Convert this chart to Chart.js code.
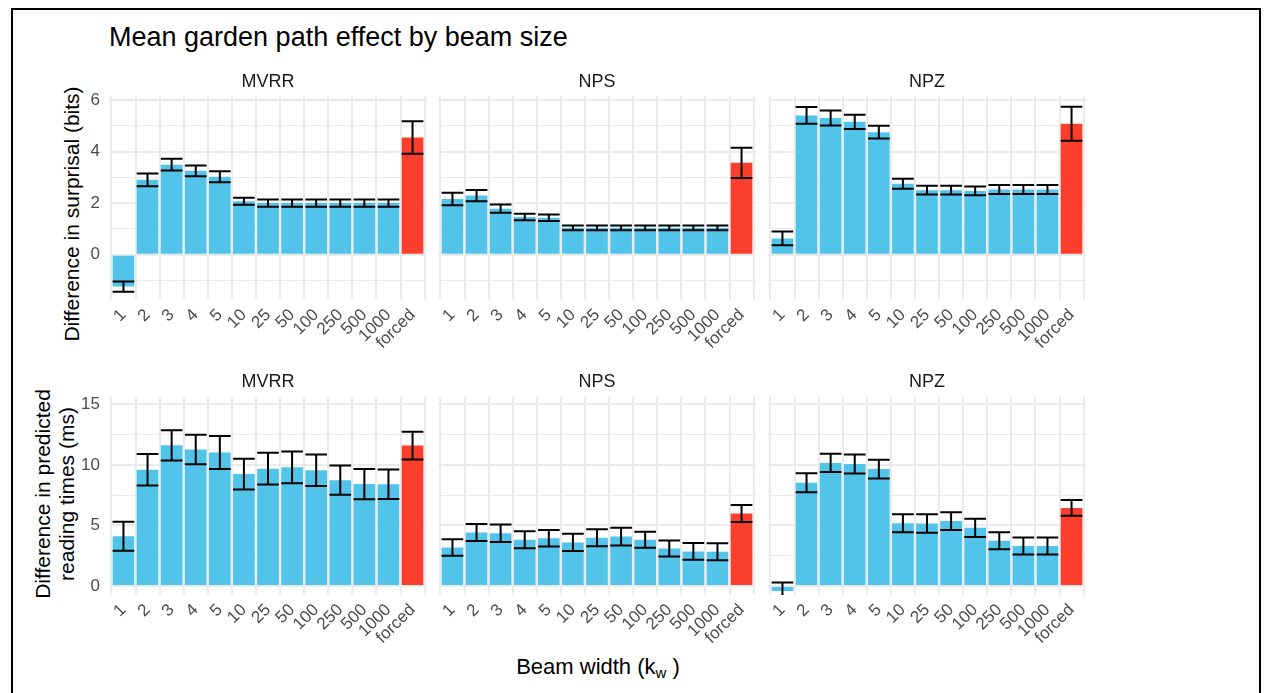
<!DOCTYPE html>
<html><head><meta charset="utf-8">
<script src="https://cdn.jsdelivr.net/npm/chart.js@4.4.1/dist/chart.umd.min.js"></script>
<style>
html,body{margin:0;padding:0;background:#fff;}
body{width:1270px;height:693px;position:relative;overflow:hidden;font-family:"Liberation Sans",Arial,sans-serif;}
#frame{position:absolute;left:11px;top:8px;width:1246px;height:720px;border:2px solid #000;border-bottom:none;}
canvas.p{position:absolute;}
.t{position:absolute;white-space:nowrap;color:#000;line-height:1;}
.rot{transform:translate(-50%,-50%) rotate(-90deg);text-align:center;}
</style></head><body>
<div id="frame"></div>
<div class="t" style="left:109px;top:24px;font-size:27px;">Mean garden path effect by beam size</div>
<div class="t rot" style="left:71px;top:214px;font-size:21px;">Difference in surprisal (bits)</div>
<div class="t rot" style="left:55px;top:494px;font-size:21px;line-height:24px;">Difference in predicted<br>reading times (ms)</div>
<div class="t" style="left:598px;top:668px;font-size:22px;transform:translate(-50%,-50%);">Beam width (k<sub style="font-size:15px;vertical-align:-4px;">w</sub> )</div>

<canvas class="p" id="c11"></canvas><canvas class="p" id="c12"></canvas><canvas class="p" id="c13"></canvas>
<canvas class="p" id="c21"></canvas><canvas class="p" id="c22"></canvas><canvas class="p" id="c23"></canvas>
<script>
// ---- data ----
const categories = ['1','2','3','4','5','10','25','50','100','250','500','1000','forced'];
const panelNames = ['MVRR','NPS','NPZ'];

// Difference in surprisal (bits)
const surpMVRR    = [-1.24, 2.90, 3.49, 3.25, 3.02, 2.07, 2.00, 2.00, 2.00, 2.00, 2.00, 2.00, 4.54];
const surpMVRRErr = [0.20, 0.25, 0.23, 0.21, 0.21, 0.14, 0.14, 0.14, 0.14, 0.14, 0.14, 0.14, 0.63];
const surpNPS     = [2.16, 2.29, 1.78, 1.46, 1.43, 1.04, 1.04, 1.04, 1.04, 1.04, 1.04, 1.04, 3.56];
const surpNPSErr  = [0.24, 0.22, 0.16, 0.125, 0.125, 0.09, 0.09, 0.09, 0.09, 0.09, 0.09, 0.09, 0.585];
const surpNPZ     = [0.63, 5.40, 5.30, 5.15, 4.75, 2.75, 2.50, 2.50, 2.47, 2.53, 2.53, 2.53, 5.08];
const surpNPZErr  = [0.27, 0.325, 0.29, 0.275, 0.245, 0.195, 0.17, 0.17, 0.17, 0.175, 0.175, 0.175, 0.66];

// Difference in predicted reading times (ms)
const rtMVRR    = [4.11, 9.60, 11.62, 11.28, 11.03, 9.25, 9.69, 9.80, 9.56, 8.74, 8.42, 8.40, 11.60];
const rtMVRRErr = [1.20, 1.30, 1.25, 1.22, 1.37, 1.27, 1.31, 1.31, 1.31, 1.21, 1.25, 1.22, 1.14];
const rtNPS     = [3.17, 4.41, 4.35, 3.82, 3.94, 3.60, 3.98, 4.08, 3.82, 3.10, 2.85, 2.83, 5.98];
const rtNPSErr  = [0.68, 0.70, 0.72, 0.70, 0.68, 0.72, 0.70, 0.73, 0.66, 0.66, 0.69, 0.70, 0.70];
const rtNPZ     = [-0.42, 8.53, 10.17, 10.08, 9.66, 5.18, 5.16, 5.36, 4.80, 3.74, 3.30, 3.30, 6.45];
const rtNPZErr  = [0.70, 0.78, 0.76, 0.78, 0.78, 0.75, 0.76, 0.73, 0.76, 0.70, 0.70, 0.70, 0.65];

const surpTicks = [-1, 0, 1, 2, 3, 4, 5, 6];
const surpMajor = [0, 2, 4, 6];
const rtTicks = [0, 2.5, 5, 7.5, 10, 12.5, 15];
const rtMajor = [0, 5, 10, 15];

// ---- style / layout ----
const BLUE = '#53C4E9', RED = '#FC3F2D', GRID = '#EBEBEB';
const FONT = '"Liberation Sans", Arial, sans-serif';
const colLeft = [109, 438, 768];
const plotW = 318;
const rows = [
  {top: 97, bottom: 300, min: -1.76, max: 6.13, ticks: surpTicks, major: surpMajor,
   series: [[surpMVRR, surpMVRRErr], [surpNPS, surpNPSErr], [surpNPZ, surpNPZErr]]},
  {top: 397, bottom: 595, min: -0.75, max: 15.65, ticks: rtTicks, major: rtMajor,
   series: [[rtMVRR, rtMVRRErr], [rtNPS, rtNPSErr], [rtNPZ, rtNPZErr]]}
];
const STRIP_SIZE = 18;
const TITLE_PT = 5, TITLE_PB = 4;
const TITLE_H = STRIP_SIZE * 1.2 + TITLE_PT + TITLE_PB;
const X_H = 62;

const errorBars = {
  id: 'errorBars',
  afterDatasetsDraw(chart, args, opts) {
    const errs = opts.errs;
    if (!errs) return;
    const data = chart.data.datasets[0].data;
    const xs = chart.scales.x, ys = chart.scales.y;
    const a = chart.chartArea;
    const ctx = chart.ctx;
    ctx.save();
    ctx.beginPath(); ctx.rect(a.left, a.top, a.right - a.left, a.bottom - a.top); ctx.clip();
    ctx.strokeStyle = '#000'; ctx.lineWidth = 2; ctx.lineCap = 'butt';
    const half = (xs.getPixelForValue(0.45) - xs.getPixelForValue(0));
    data.forEach((p, i) => {
      const cx = xs.getPixelForValue(p.x);
      const yt = ys.getPixelForValue(p.y + errs[i]);
      const yb = ys.getPixelForValue(p.y - errs[i]);
      ctx.beginPath();
      ctx.moveTo(cx - half, yt); ctx.lineTo(cx + half, yt);
      ctx.moveTo(cx, yt); ctx.lineTo(cx, yb);
      ctx.moveTo(cx - half, yb); ctx.lineTo(cx + half, yb);
      ctx.stroke();
    });
    ctx.restore();
  }
};

rows.forEach((row, r) => {
  for (let c = 0; c < 3; c++) {
    const [vals, errs] = row.series[c];
    const yW = c === 0 ? 40 : 0;
    const padL = c === 0 ? 0 : 10;
    const padR = 14;
    const canvas = document.getElementById('c' + (r + 1) + (c + 1));
    const plotH = row.bottom - row.top;
    const w = padL + yW + plotW + padR;
    const h = Math.round(TITLE_H + plotH + X_H);
    canvas.width = w; canvas.height = h;
    canvas.style.width = w + 'px'; canvas.style.height = h + 'px';
    canvas.style.left = (colLeft[c] - yW - padL) + 'px';
    canvas.style.top = (row.top - TITLE_H) + 'px';
    new Chart(canvas, {
      type: 'bar',
      data: {
        datasets: [{
          data: vals.map((v, i) => ({x: i, y: v})),
          backgroundColor: vals.map((v, i) => categories[i] === 'forced' ? RED : BLUE),
          borderWidth: 0,
          barPercentage: 0.9,
          categoryPercentage: 1.0
        }]
      },
      options: {
        responsive: false,
        animation: false,
        devicePixelRatio: 1,
        layout: {padding: {left: padL, right: padR, top: 0, bottom: 0}},
        plugins: {
          legend: {display: false},
          tooltip: {enabled: false},
          title: {
            display: true, text: panelNames[c], fullSize: false,
            color: '#1A1A1A', font: {family: FONT, size: STRIP_SIZE, weight: 'normal', lineHeight: 1.2},
            padding: {top: TITLE_PT, bottom: TITLE_PB}
          },
          errorBars: {errs: errs}
        },
        scales: {
          x: {
            type: 'linear', min: -0.6, max: 12.6, offset: false,
            afterBuildTicks: s => { s.ticks = categories.map((cat, i) => ({value: i})); },
            afterFit: s => { s.height = X_H; },
            grid: {color: GRID, lineWidth: 2, drawTicks: false},
            border: {display: false},
            ticks: {
              autoSkip: false, minRotation: 45, maxRotation: 45, padding: 5,
              color: '#4D4D4D', font: {family: FONT, size: 17},
              callback: (v, i) => categories[i]
            }
          },
          y: {
            type: 'linear', min: row.min, max: row.max,
            afterBuildTicks: s => { s.ticks = row.ticks.map(v => ({value: v})); },
            afterFit: s => { s.width = yW; },
            grid: {
              color: GRID, drawTicks: false,
              lineWidth: ctx => (ctx.tick && row.major.includes(ctx.tick.value)) ? 2 : 1
            },
            border: {display: false},
            ticks: {
              display: c === 0, padding: 9,
              color: '#4D4D4D', font: {family: FONT, size: 17},
              callback: v => row.major.includes(v) ? String(v) : ''
            }
          }
        }
      },
      plugins: [errorBars]
    });
  }
});
</script>
</body></html>
